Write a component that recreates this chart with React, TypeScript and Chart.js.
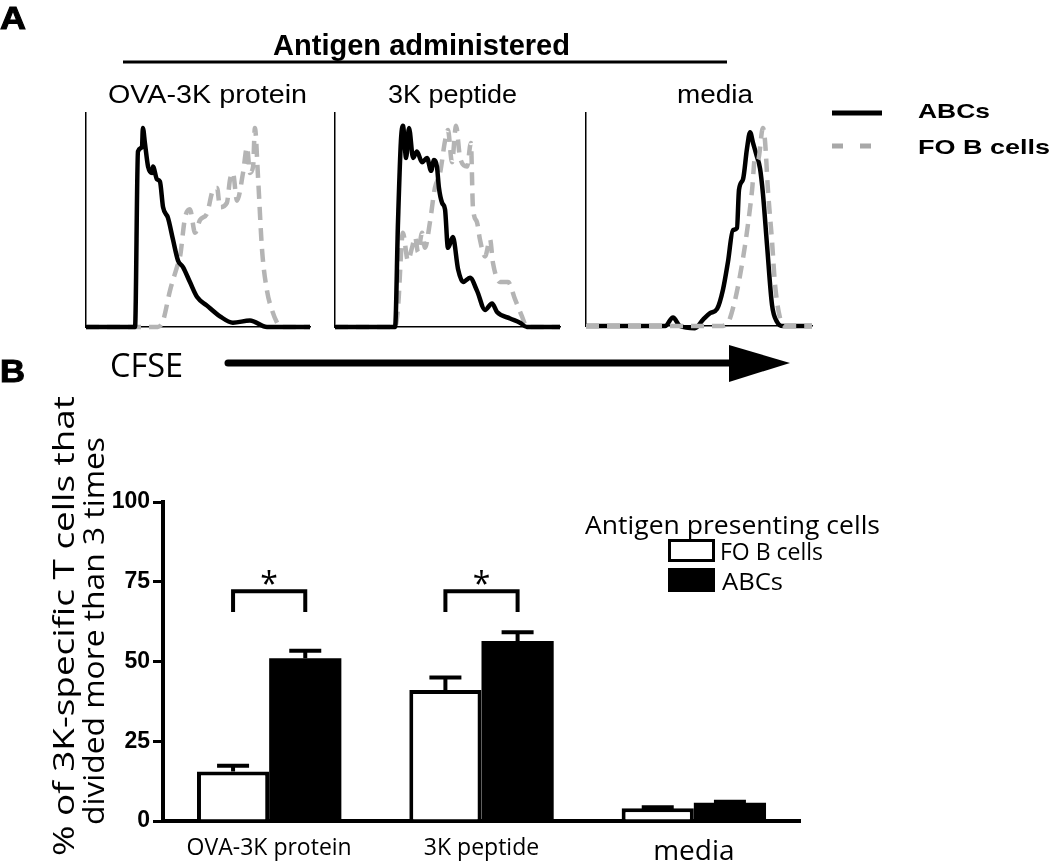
import React, { useEffect, useRef } from 'react';
import { Chart, registerables } from 'chart.js';
Chart.register(...registerables);

// ---------- Panel A: CFSE histograms (x = CFSE channel 0-100, y = relative count 0-100) ----------
const ovaAbcX = [0, 21.9, 23.2, 25, 25.4, 26.3, 27.7, 29.5, 29.9, 31.7, 33, 34.4, 36.6, 38.8, 41.1, 43.3, 46.4, 49.6, 54, 59.8, 65.6, 73.2, 80.8, 100];
const ovaAbcY = [0, 0, 82, 84, 93, 86, 75, 72, 75, 69, 68, 56, 51, 41, 31, 28, 21, 14, 10, 5, 2, 3, 0, 0];
const ovaFoX = [0, 32.1, 34.4, 37.5, 40.6, 42, 44.2, 46.4, 48.7, 50.9, 54, 56.7, 58.5, 59.8, 62.9, 64.3, 65.6, 67.4, 70.1, 71.9, 73.2, 74.6, 75.4, 76.8, 78.6, 80.8, 83, 85.3, 86.6, 100];
const ovaFoY = [0, 0, 3, 17, 28, 33, 51, 55, 44, 50, 53, 64, 65, 56, 58, 69, 72, 59, 72, 84, 72, 75, 93, 70, 36, 17, 8, 2, 0, 0];

const pepAbcX = [0, 26.7, 28, 29.3, 30.2, 31.6, 32.9, 34.7, 36.4, 38.7, 40.9, 42.7, 44, 45.3, 46.2, 47.6, 48.9, 50.2, 52.4, 54.7, 56.9, 60, 63.1, 66.7, 69.8, 72, 77.8, 82.2, 85.3, 100];
const pepAbcY = [0, 0, 49, 87, 94, 79, 93, 79, 82, 77, 79, 73, 78, 75, 65, 58, 55, 37, 42, 27, 21, 23, 17, 8, 11, 7, 4, 2, 0, 0];
const pepFoX = [0, 26.7, 28, 30.2, 32.4, 34.2, 35.6, 36.9, 38.7, 40, 42.2, 44.4, 46.7, 48.9, 50.2, 52, 53.8, 55.6, 58.7, 60.4, 61.3, 63.1, 64.4, 66.7, 68.9, 70.2, 73.3, 76.9, 80, 83.1, 85.3, 100];
const pepFoY = [0, 0, 9, 44, 31, 37, 42, 35, 44, 37, 49, 65, 72, 87, 92, 77, 94, 79, 75, 86, 56, 49, 41, 33, 41, 30, 21, 21, 13, 5, 0, 0];

const medAbcX = [0, 35, 38.5, 41.6, 48.2, 51.8, 54.9, 58, 60.6, 62.8, 65, 66.8, 67.7, 69.5, 71.2, 72.6, 73.9, 75.5, 77, 78.3, 80.1, 82.3, 84.5, 87.2, 100];
const medAbcY = [0, 0, 4, 0, -1, 3, 6, 8, 17, 30, 45, 46, 64, 69, 83, 91, 86, 80, 74, 62, 38, 10, 2, 0, 0];
const medFoX = [0, 59.3, 62.4, 65.9, 69.5, 71.7, 73.5, 74.8, 76.1, 78.3, 79.2, 80.5, 82.3, 83.6, 85.8, 88.1, 100];
const medFoY = [0, 0, 1, 12, 32, 48, 64, 79, 78, 93, 87, 64, 40, 20, 4, 0, 0];

// ---------- Panel B: bar chart ----------
const barCategories = ['OVA-3K protein', '3K peptide', 'media'];
const foBMean = [15.5, 41.1, 4.0];
const foBSem = [1.8, 3.9, 0.3];
const abcMean = [51.0, 56.4, 5.7];
const abcSem = [2.4, 2.8, 0.3];
const yTickStep = 25;
const sigGroups = [0, 1];
const sigBracketTop = 72;
const sigBracketLeg = 65.5;

const GREY = '#b4b4b4';

function histConfig(ax: number[], ay: number[], fx: number[], fy: number[], greyOnTop: boolean): any {
  const abc = {
    label: 'ABCs',
    data: ax.map((x, i) => ({ x, y: ay[i] })),
    borderColor: '#000',
    borderWidth: 4.5,
    pointRadius: 0,
    cubicInterpolationMode: 'monotone',
    clip: false,
    fill: false,
  };
  const fo = {
    label: 'FO B cells',
    data: fx.map((x, i) => ({ x, y: fy[i] })),
    borderColor: GREY,
    borderWidth: 4.5,
    borderDash: [13, 8],
    pointRadius: 0,
    cubicInterpolationMode: 'monotone',
    clip: false,
    fill: false,
  };
  return {
    type: 'line',
    data: { datasets: greyOnTop ? [fo, abc] : [abc, fo] },
    options: {
      responsive: false,
      animation: false,
      layout: { padding: 10 },
      scales: {
        x: {
          type: 'linear', min: 0, max: 100,
          ticks: { display: false },
          grid: { display: false, drawTicks: false },
          border: { display: true, color: '#000', width: 1.5 },
          afterFit: (s: any) => { s.height = 0; },
        },
        y: {
          min: 0, max: 100,
          ticks: { display: false },
          grid: { display: false, drawTicks: false },
          border: { display: true, color: '#000', width: 1.5 },
          afterFit: (s: any) => { s.width = 0; },
        },
      },
      plugins: { legend: { display: false }, tooltip: { enabled: false } },
    },
  };
}

const errorBarPlugin = {
  id: 'errorBars',
  afterDatasetsDraw(chart: any) {
    const ctx = chart.ctx;
    const y = chart.scales.y;
    ctx.save();
    ctx.strokeStyle = '#000';
    ctx.lineWidth = 4;
    chart.data.datasets.forEach((ds: any, di: number) => {
      const meta = chart.getDatasetMeta(di);
      meta.data.forEach((bar: any, i: number) => {
        const top = y.getPixelForValue(ds.data[i] + ds.sem[i]);
        ctx.beginPath();
        ctx.moveTo(bar.x, bar.y);
        ctx.lineTo(bar.x, top);
        ctx.moveTo(bar.x - 16, top);
        ctx.lineTo(bar.x + 16, top);
        ctx.stroke();
      });
    });
    ctx.restore();
  },
};

const bracketPlugin = {
  id: 'sigBrackets',
  afterDatasetsDraw(chart: any) {
    const ctx = chart.ctx;
    const y = chart.scales.y;
    const m0 = chart.getDatasetMeta(0);
    const m1 = chart.getDatasetMeta(1);
    ctx.save();
    ctx.strokeStyle = '#000';
    ctx.fillStyle = '#000';
    ctx.lineWidth = 4;
    ctx.lineJoin = 'miter';
    sigGroups.forEach((g) => {
      const x1 = m0.data[g].x;
      const x2 = m1.data[g].x;
      const yt = y.getPixelForValue(sigBracketTop);
      const yl = y.getPixelForValue(sigBracketLeg);
      ctx.beginPath();
      ctx.moveTo(x1, yl);
      ctx.lineTo(x1, yt);
      ctx.lineTo(x2, yt);
      ctx.lineTo(x2, yl);
      ctx.stroke();
      ctx.font = '32px "Open Sans"';
      ctx.textAlign = 'center';
      ctx.textBaseline = 'alphabetic';
      ctx.fillText('*', (x1 + x2) / 2, yt + 4);
    });
    ctx.restore();
  },
};

function barConfig(): any {
  return {
    type: 'bar',
    data: {
      labels: barCategories,
      datasets: [
        { label: 'FO B cells', data: foBMean, sem: foBSem, backgroundColor: '#fff', borderColor: '#000', borderWidth: 4, borderSkipped: 'bottom' },
        { label: 'ABCs', data: abcMean, sem: abcSem, backgroundColor: '#000', borderColor: '#000', borderWidth: 0 },
      ],
    },
    options: {
      responsive: false,
      animation: false,
      layout: { padding: { left: 8, top: 32, right: 20, bottom: 0 } },
      datasets: { bar: { barPercentage: 1, categoryPercentage: 0.68 } },
      scales: {
        x: {
          grid: { display: false, drawTicks: false },
          border: { display: true, color: '#000', width: 4 },
          ticks: {
            color: '#000',
            padding: 14,
            font: (c: any) => ({ family: '"Open Sans"', size: c.index === 2 ? 28 : 23 }),
          },
          afterFit: (s: any) => { s.height = 44; },
        },
        y: {
          min: 0, max: 100,
          ticks: { stepSize: yTickStep, color: '#000', padding: 3, font: { family: '"Liberation Sans", Arial', weight: 'bold', size: 23 } },
          grid: { display: true, drawOnChartArea: false, drawTicks: true, tickLength: 10, color: '#000', lineWidth: 3 },
          border: { display: true, color: '#000', width: 4 },
          afterFit: (s: any) => { s.width = 55; },
        },
      },
      plugins: { legend: { display: false }, tooltip: { enabled: false } },
    },
    plugins: [errorBarPlugin, bracketPlugin],
  };
}

function ChartCanvas({ left, top, width, height, make }: { left: number; top: number; width: number; height: number; make: () => any }) {
  const ref = useRef<HTMLCanvasElement | null>(null);
  useEffect(() => {
    if (!ref.current) return;
    const chart = new Chart(ref.current, make());
    return () => chart.destroy();
  }, []);
  return (
    <canvas
      ref={ref}
      width={width}
      height={height}
      style={{ position: 'absolute', left, top, width, height }}
    />
  );
}

const sansA = '"Liberation Sans", Arial, sans-serif';
const sansB = '"Open Sans", sans-serif';

export default function App() {
  return (
    <div style={{ position: 'absolute', left: 0, top: 0, width: 1050, height: 865, background: '#fff', overflow: 'hidden' }}>
      <ChartCanvas left={76} top={103} width={244} height={234} make={() => histConfig(ovaAbcX, ovaAbcY, ovaFoX, ovaFoY, false)} />
      <ChartCanvas left={325} top={103} width={245} height={234} make={() => histConfig(pepAbcX, pepAbcY, pepFoX, pepFoY, false)} />
      <ChartCanvas left={576} top={103} width={246} height={233} make={() => histConfig(medAbcX, medAbcY, medFoX, medFoY, true)} />
      <ChartCanvas left={100} top={470} width={720} height={395} make={barConfig} />
      <svg width={1050} height={865} style={{ position: 'absolute', left: 0, top: 0, pointerEvents: 'none' }}>
        {/* Panel A annotations */}
        <text x={0} y={29} fontFamily={sansA} fontWeight="bold" fontSize={31} textLength={26} lengthAdjust="spacingAndGlyphs" stroke="#000" strokeWidth={1}>A</text>
        <text x={273} y={55} fontFamily={sansA} fontWeight="bold" fontSize={30} textLength={297} lengthAdjust="spacingAndGlyphs">Antigen administered</text>
        <line x1={123} y1={62} x2={727} y2={62} stroke="#000" strokeWidth={3} />
        <text x={108} y={103} fontFamily={sansA} fontSize={25} textLength={199} lengthAdjust="spacingAndGlyphs">OVA-3K protein</text>
        <text x={388} y={103} fontFamily={sansA} fontSize={25} textLength={129} lengthAdjust="spacingAndGlyphs">3K peptide</text>
        <text x={677} y={103} fontFamily={sansA} fontSize={25} textLength={76} lengthAdjust="spacingAndGlyphs">media</text>
        <line x1={832} y1={113} x2={882} y2={113} stroke="#000" strokeWidth={5} />
        <text x={918} y={118} fontFamily={sansA} fontWeight="bold" fontSize={21} textLength={72} lengthAdjust="spacingAndGlyphs">ABCs</text>
        <line x1={832} y1={146} x2={882} y2={146} stroke="#a8a8a8" strokeWidth={5} strokeDasharray="11 17" />
        <text x={918} y={154} fontFamily={sansA} fontWeight="bold" fontSize={21} textLength={132} lengthAdjust="spacingAndGlyphs">FO B cells</text>
        <text x={110} y={377} fontFamily={sansB} fontSize={33} textLength={73} lengthAdjust="spacingAndGlyphs">CFSE</text>
        <line x1={228} y1={363} x2={735} y2={363} stroke="#000" strokeWidth={7} strokeLinecap="round" />
        <polygon points="729,345 790,363 729,382" fill="#000" />
        {/* Panel B annotations */}
        <text x={0} y={382} fontFamily={sansA} fontWeight="bold" fontSize={31} textLength={25} lengthAdjust="spacingAndGlyphs" stroke="#000" strokeWidth={1}>B</text>
        <text x={62} y={626} transform="rotate(-90 62 626)" textAnchor="middle" dominantBaseline="central" fontFamily={sansB} fontSize={29} textLength={460} lengthAdjust="spacingAndGlyphs">% of 3K-specific T cells that</text>
        <text x={92} y={631} transform="rotate(-90 92 631)" textAnchor="middle" dominantBaseline="central" fontFamily={sansB} fontSize={29} textLength={388} lengthAdjust="spacingAndGlyphs">divided more than 3 times</text>
        <text x={585} y={524} dominantBaseline="central" fontFamily={sansB} fontSize={25} textLength={295} lengthAdjust="spacingAndGlyphs">Antigen presenting cells</text>
        <rect x={669.5} y={540.5} width={44} height={20} fill="#fff" stroke="#000" strokeWidth={3} />
        <text x={720} y={551} dominantBaseline="central" fontFamily={sansB} fontSize={23}>FO B cells</text>
        <rect x={668} y={568} width={47} height={24} fill="#000" />
        <text x={722} y={581} dominantBaseline="central" fontFamily={sansB} fontSize={23} textLength={61} lengthAdjust="spacingAndGlyphs">ABCs</text>
      </svg>
    </div>
  );
}
